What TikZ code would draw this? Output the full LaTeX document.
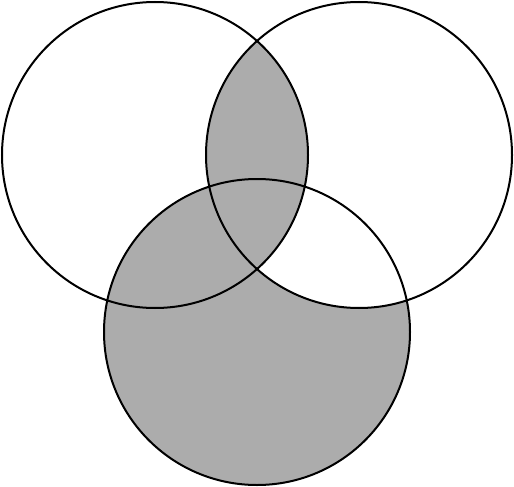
\documentclass[tikz,border=0pt]{standalone}
\begin{document}
\begin{tikzpicture}[x=1pt,y=-1pt,
  ring/.style={draw=black,line width=2pt}]
\useasboundingbox (0,0) rectangle (514,487);
\def\rad{153}
\coordinate (A) at (155,155);
\coordinate (B) at (359,155);
\coordinate (C) at (257,332);
\fill[gray!65] (C) circle (\rad);
\begin{scope}
  \clip (B) circle (\rad);
  \fill[white] (C) circle (\rad);
\end{scope}
\begin{scope}
  \clip (A) circle (\rad);
  \fill[gray!65] (B) circle (\rad);
\end{scope}
\draw[ring] (A) circle (\rad);
\draw[ring] (B) circle (\rad);
\draw[ring] (C) circle (\rad);
\end{tikzpicture}
\end{document}
